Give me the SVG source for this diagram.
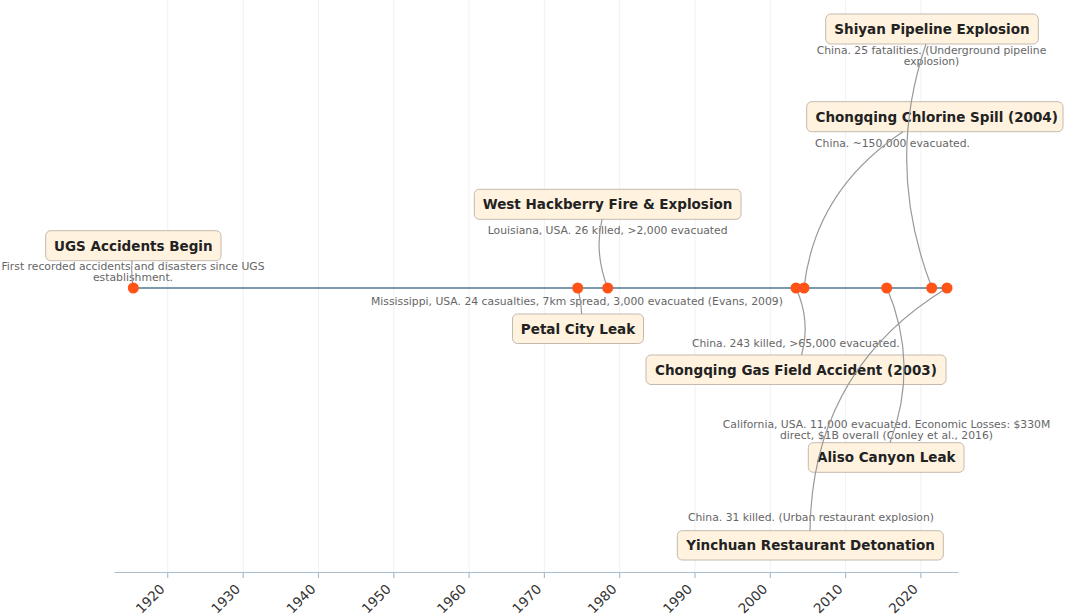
<svg xmlns="http://www.w3.org/2000/svg" width="1065" height="616" viewBox="0 0 1065 616">
<style>
.grid{stroke:#ececec;stroke-width:0.8}
.axis{stroke:#a9bfcf;stroke-width:1.2}
.tick{font-family:"DejaVu Sans",sans-serif;font-size:13.5px;fill:#333;text-anchor:end}
.box{fill:#fff3e0;stroke:#c4b9ad;stroke-width:1}
.title{font-family:"DejaVu Sans",sans-serif;font-weight:bold;font-size:13.5px;fill:#222;text-anchor:middle}
.desc{font-family:"DejaVu Sans",sans-serif;font-size:10.8px;fill:#666;text-anchor:middle}
.conn{fill:none;stroke:#999;stroke-width:1.2}
.dot{fill:#ff5318}
</style>
<rect width="1065" height="616" fill="#fff"/>
<g id="grid">
<line class="grid" x1="167.7" y1="0" x2="167.7" y2="572"/>
<line class="grid" x1="243.2" y1="0" x2="243.2" y2="572"/>
<line class="grid" x1="318.5" y1="0" x2="318.5" y2="572"/>
<line class="grid" x1="393.8" y1="0" x2="393.8" y2="572"/>
<line class="grid" x1="469.1" y1="0" x2="469.1" y2="572"/>
<line class="grid" x1="544.4" y1="0" x2="544.4" y2="572"/>
<line class="grid" x1="619.7" y1="0" x2="619.7" y2="572"/>
<line class="grid" x1="695" y1="0" x2="695" y2="572"/>
<line class="grid" x1="770.3" y1="0" x2="770.3" y2="572"/>
<line class="grid" x1="845.6" y1="0" x2="845.6" y2="572"/>
<line class="grid" x1="920.9" y1="0" x2="920.9" y2="572"/>
</g>
<g id="axis">
<line class="axis" x1="114.5" y1="572.5" x2="958.5" y2="572.5"/>
<line class="axis" x1="167.7" y1="572.5" x2="167.7" y2="578"/>
<line class="axis" x1="243.2" y1="572.5" x2="243.2" y2="578"/>
<line class="axis" x1="318.5" y1="572.5" x2="318.5" y2="578"/>
<line class="axis" x1="393.8" y1="572.5" x2="393.8" y2="578"/>
<line class="axis" x1="469.1" y1="572.5" x2="469.1" y2="578"/>
<line class="axis" x1="544.4" y1="572.5" x2="544.4" y2="578"/>
<line class="axis" x1="619.7" y1="572.5" x2="619.7" y2="578"/>
<line class="axis" x1="695" y1="572.5" x2="695" y2="578"/>
<line class="axis" x1="770.3" y1="572.5" x2="770.3" y2="578"/>
<line class="axis" x1="845.6" y1="572.5" x2="845.6" y2="578"/>
<line class="axis" x1="920.9" y1="572.5" x2="920.9" y2="578"/>
<text class="tick" transform="translate(165.7,590) rotate(-45)">1920</text>
<text class="tick" transform="translate(241.2,590) rotate(-45)">1930</text>
<text class="tick" transform="translate(316.5,590) rotate(-45)">1940</text>
<text class="tick" transform="translate(391.8,590) rotate(-45)">1950</text>
<text class="tick" transform="translate(467.1,590) rotate(-45)">1960</text>
<text class="tick" transform="translate(542.4,590) rotate(-45)">1970</text>
<text class="tick" transform="translate(617.7,590) rotate(-45)">1980</text>
<text class="tick" transform="translate(693,590) rotate(-45)">1990</text>
<text class="tick" transform="translate(768.3,590) rotate(-45)">2000</text>
<text class="tick" transform="translate(843.6,590) rotate(-45)">2010</text>
<text class="tick" transform="translate(918.9,590) rotate(-45)">2020</text>
</g>
<line id="timeline" x1="133.3" y1="288" x2="947" y2="288" stroke="#507890" stroke-width="1.6"/>
<g id="node-ugs">
<rect class="box" x="45.7" y="230.7" width="175.3" height="30" rx="5"/>
<text class="title" x="133.3" y="250.5">UGS Accidents Begin</text>
<text class="desc" x="133" y="269.5">First recorded accidents and disasters since UGS</text>
<text class="desc" x="133" y="281">establishment.</text>
</g>
<g id="node-westhackberry">
<rect class="box" x="474.3" y="189.3" width="266.7" height="30" rx="5"/>
<text class="title" x="607.6" y="209">West Hackberry Fire &amp; Explosion</text>
<text class="desc" x="607.7" y="234">Louisiana, USA. 26 killed, &gt;2,000 evacuated</text>
</g>
<g id="node-petal">
<rect class="box" x="512.5" y="314" width="131" height="29.5" rx="5"/>
<text class="title" x="578" y="333.5">Petal City Leak</text>
<text class="desc" x="371" y="304.5" style="text-anchor:start">Mississippi, USA. 24 casualties, 7km spread, 3,000 evacuated (Evans, 2009)</text>
</g>
<g id="node-gasfield">
<rect class="box" x="646" y="355" width="300" height="29.5" rx="5"/>
<text class="title" x="796" y="374.5">Chongqing Gas Field Accident (2003)</text>
<text class="desc" x="795.8" y="346.5">China. 243 killed, &gt;65,000 evacuated.</text>
</g>
<g id="node-chlorine">
<rect class="box" x="806.7" y="101.7" width="256.3" height="30" rx="5"/>
<text class="title" x="936.7" y="121.5">Chongqing Chlorine Spill (2004)</text>
<text class="desc" x="815" y="147" style="text-anchor:start">China. ~150,000 evacuated.</text>
</g>
<g id="node-aliso">
<rect class="box" x="808.3" y="442.7" width="155.7" height="29.6" rx="5"/>
<text class="title" x="886.3" y="462.3">Aliso Canyon Leak</text>
<text class="desc" x="886.5" y="428">California, USA. 11,000 evacuated. Economic Losses: $330M</text>
<text class="desc" x="886.5" y="439">direct, $1B overall (Conley et al., 2016)</text>
</g>
<g id="node-shiyan">
<rect class="box" x="825.7" y="14" width="212.6" height="30" rx="5"/>
<text class="title" x="932" y="34">Shiyan Pipeline Explosion</text>
<text class="desc" x="931.5" y="54">China. 25 fatalities. (Underground pipeline</text>
<text class="desc" x="931.5" y="65">explosion)</text>
</g>
<g id="node-yinchuan">
<rect class="box" x="677.3" y="530.7" width="266" height="29.3" rx="5"/>
<text class="title" x="810.5" y="550">Yinchuan Restaurant Detonation</text>
<text class="desc" x="811" y="521.3">China. 31 killed. (Urban restaurant explosion)</text>
</g>
<g id="connectors">
<path class="conn" d="M133.3,288 Q131,275 132,260.7"/>
<path class="conn" d="M602,219.3 Q594,253 607.7,288"/>
<path class="conn" d="M577.7,288 Q580.5,298 581.7,314"/>
<path class="conn" d="M796,288 Q811,321 801.5,355"/>
<path class="conn" d="M804,288 Q815,190 903,131.7"/>
<path class="conn" d="M887,288 Q919.5,365 890,442.7"/>
<path class="conn" d="M926,44 Q884.5,166 932,288"/>
<path class="conn" d="M810,530.7 Q812,370 947,288"/>
</g>
<g id="dots">
<circle class="dot" cx="133.3" cy="288" r="5.5"/>
<circle class="dot" cx="577.7" cy="288" r="5.5"/>
<circle class="dot" cx="607.7" cy="288" r="5.5"/>
<circle class="dot" cx="796" cy="288" r="5.5"/>
<circle class="dot" cx="804" cy="288" r="5.5"/>
<circle class="dot" cx="886.7" cy="288" r="5.5"/>
<circle class="dot" cx="931.7" cy="288" r="5.5"/>
<circle class="dot" cx="947" cy="288" r="5.5"/>
</g>
</svg>
